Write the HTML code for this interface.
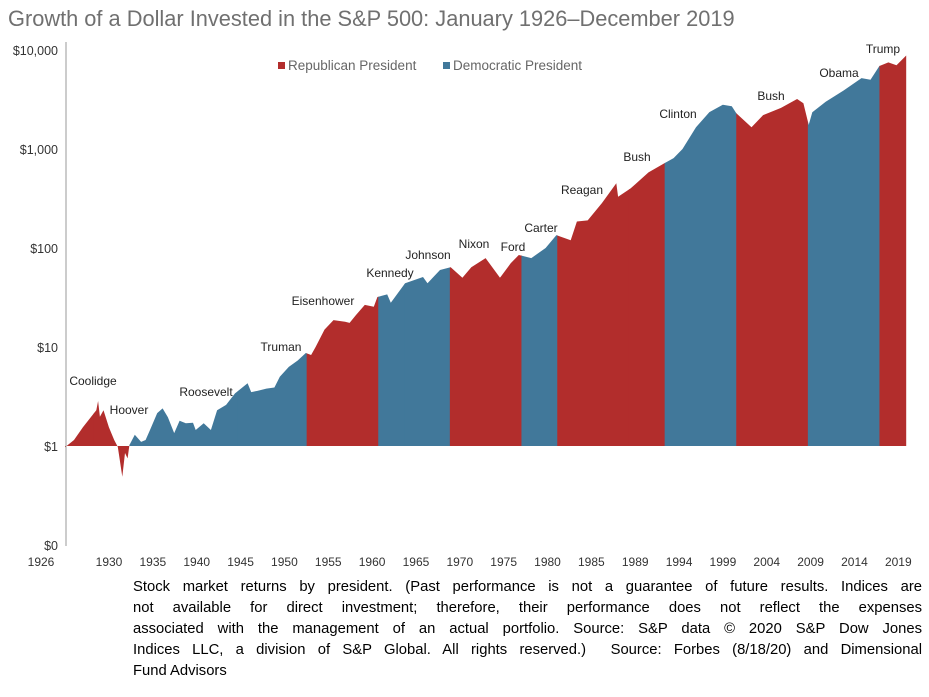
<!DOCTYPE html>
<html><head><meta charset="utf-8"><style>
body{margin:0;background:#fff;width:929px;height:697px;overflow:hidden;font-family:"Liberation Sans",sans-serif}
#cap{position:absolute;left:133px;top:577px;width:789px;font-size:14.8px;line-height:21px;color:#000}
#cap div{text-align:justify;text-align-last:justify;white-space:nowrap}
#cap div.last{text-align-last:left}
</style></head><body>
<svg id="chart" width="929" height="577" style="position:absolute;left:0;top:0"></svg>
<div id="cap">
<div>Stock market returns by president. (Past performance is not a guarantee of future results. Indices are</div>
<div>not available for direct investment; therefore, their performance does not reflect the expenses</div>
<div>associated with the management of an actual portfolio. Source: S&amp;P data © 2020 S&amp;P Dow Jones</div>
<div>Indices LLC, a division of S&amp;P Global. All rights reserved.)&nbsp; Source: Forbes (8/18/20) and Dimensional</div>
<div class="last">Fund Advisors</div>
</div>
<script>
const years=[1926,1927,1928,1929.5,1929.7,1929.9,1930.3,1930.9,1931.5,1931.9,1932.4,1932.7,1933,1933.2,1933.8,1934.5,1935,1935.5,1936.3,1936.9,1937.5,1938.2,1938.8,1939.5,1940.3,1940.6,1941.5,1942.3,1943,1944,1945,1946.4,1946.8,1947.5,1948.5,1949.4,1950,1951,1952,1952.9,1953.5,1954,1955,1956,1957.3,1957.8,1958.5,1959.5,1960.5,1960.9,1962,1962.4,1964,1966,1966.5,1967.9,1969.1,1970.4,1971.4,1973,1974.6,1975.8,1976.7,1978.1,1979.7,1980.9,1982.5,1983.2,1984.4,1986,1987.6,1987.8,1989.2,1991.2,1993,1994,1995,1996.5,1998,1999.5,2000.5,2001,2002.7,2004,2006,2007.8,2008.5,2009.1,2009.5,2011,2013,2015,2016,2017,2018,2018.9,2019.99];
const values=[0.97,1.15,1.55,2.3,2.85,1.97,2.3,1.55,1.15,0.98,0.49,0.85,0.75,1.02,1.3,1.1,1.15,1.45,2.15,2.4,1.95,1.35,1.8,1.7,1.72,1.45,1.7,1.45,2.3,2.6,3.4,4.3,3.5,3.6,3.8,3.9,5,6.3,7.3,8.7,8.3,10,15,18.7,18,17.5,21,26.6,25.5,32,34,28,44,51,44,60,64,50,64,79,50,70,85,79,100,135,120,185,190,285,450,330,400,580,720,810,1000,1660,2360,2800,2700,2300,1660,2200,2600,3200,2900,1750,2350,3000,3900,5200,5000,6900,7500,7000,8800];
const presNames=["Coolidge","Hoover","Roosevelt","Truman","Eisenhower","Kennedy","Johnson","Nixon","Ford","Carter","Reagan","Bush","Clinton","Bush","Obama","Trump"];
const presStart=[1926,1929.2,1933.2,1945.3,1953,1961,1963.9,1969,1974.6,1977,1981,1989,1993,2001,2009,2017];
const presEnd=[1929.2,1933.2,1945.3,1953,1961,1963.9,1969,1974.6,1977,1981,1989,1993,2001,2009,2017,2020];
const presParty=["R","R","D","D","R","D","D","R","R","D","R","R","D","R","D","R"];
const labelPos=[[93,385],[129,414],[206,396],[281,351],[323,305],[390,277],[428,259],[474,248],[513,251],[541,232],[582,194],[637,161],[678,118],[771,100],[839,77],[883,53]];
const yTicks=[1,10,100,1000,10000];
const yTickLabels=["$1","$10","$100","$1,000","$10,000"];
const xTickLabels=["1926","1930","1935","1940","1945","1950","1955","1960","1965","1970","1975","1980","1985","1989","1994","1999","2004","2009","2014","2019"];
const NS="http://www.w3.org/2000/svg";
const svg=document.getElementById('chart');
const X=y=>65+(y-1926)*8.95;
const Y=v=>446-99*Math.log10(v);
const RED="#B22D2C",BLUE="#41789A";
function mk(t,a,p){const e=document.createElementNS(NS,t);for(const k in a)e.setAttribute(k,a[k]);(p||svg).appendChild(e);return e;}
let tt=mk('text',{x:8,y:26,'font-size':21.8,fill:'#707070'});


tt.textContent="Growth of a Dollar Invested in the S&P 500: January 1926–December 2019";
const defs=mk('defs',{});
let d="M"+X(years[0])+","+Y(1);
years.forEach((yr,i)=>{d+=" L"+X(yr).toFixed(1)+","+Y(values[i]).toFixed(1);});
d+=" L"+X(years[years.length-1])+","+Y(1)+" Z";
presNames.forEach((n,i)=>{
  const cp=mk('clipPath',{id:'cp'+i},defs);
  mk('rect',{x:X(presStart[i]),y:0,width:X(presEnd[i])-X(presStart[i])+0.5,height:600},cp);
  const p=mk('path',{d:d,fill:presParty[i]=="R"?RED:BLUE,'clip-path':'url(#cp'+i+')'});
  
  
  const t=mk('text',{x:labelPos[i][0],y:labelPos[i][1],'font-size':12,'text-anchor':'middle',fill:'#222'});
  
  
  t.textContent=n;
});
let ax=mk('line',{x1:66,y1:42,x2:66,y2:546,stroke:'#999','stroke-width':1});


yTicks.forEach((v,i)=>{
  const t=mk('text',{x:58,y:Y(v)+5,'font-size':12.5,'text-anchor':'end',fill:'#333'});
  
  
  t.textContent=yTickLabels[i];
});
let z=mk('text',{x:58,y:550,'font-size':12.5,'text-anchor':'end',fill:'#333'});


z.textContent="$0";
xTickLabels.forEach((l,i)=>{
  const x=i==0?41:109+(i-1)*43.85;
  const t=mk('text',{x:x,y:566,'font-size':12,'text-anchor':'middle',fill:'#333'});
  
  
  t.textContent=l;
});
[[278,RED,"Republican President"],[443,BLUE,"Democratic President"]].forEach(([x,c,s])=>{
  const g=mk('g',{});
  
  
  mk('rect',{x:x,y:62,width:7,height:7,fill:c},g);
  const t=mk('text',{x:x+10,y:70,'font-size':13.5,fill:'#666'},g);
  t.textContent=s;
});
</script>
</body></html>
